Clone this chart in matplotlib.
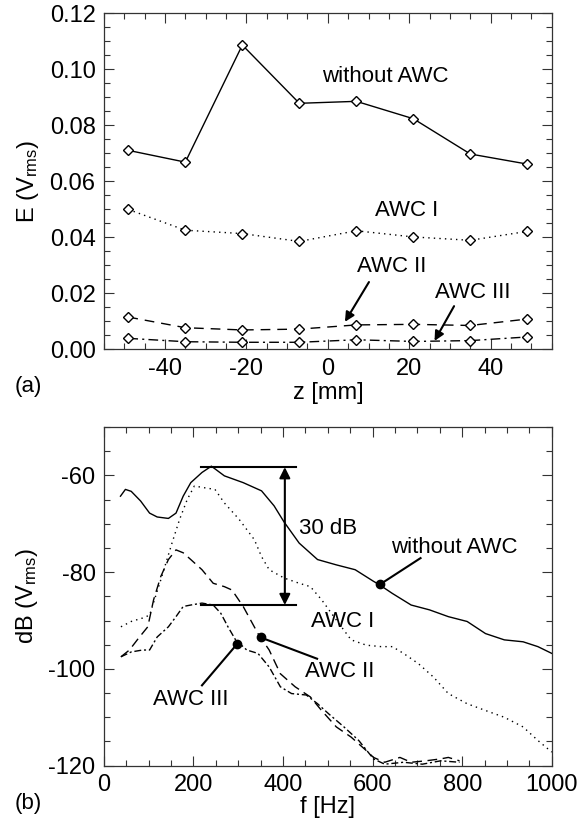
import numpy as np
import matplotlib
matplotlib.use("Agg")
import matplotlib.pyplot as plt
from matplotlib.ticker import MultipleLocator, FormatStrFormatter

plt.rcParams['font.family'] = ['Liberation Sans', 'DejaVu Sans']
plt.rcParams['mathtext.fontset'] = 'custom'
plt.rcParams['mathtext.rm'] = 'Liberation Sans'
plt.rcParams['mathtext.it'] = 'Liberation Sans'
plt.rcParams['axes.unicode_minus'] = False

# ---------------- data: panel (a) ----------------
z = [-49, -35, -21, -7, 7, 21, 35, 49]
e_without = [0.0710, 0.0668, 0.1086, 0.0878, 0.0885, 0.0823, 0.0697, 0.0661]
e_awc1 = [0.0499, 0.0425, 0.0413, 0.0385, 0.0423, 0.0401, 0.0389, 0.0421]
e_awc2 = [0.0115, 0.0077, 0.0069, 0.0072, 0.0087, 0.0089, 0.0085, 0.0108]
e_awc3 = [0.0039, 0.0027, 0.0025, 0.0025, 0.0034, 0.0028, 0.0031, 0.0044]

# ---------------- data: panel (b) ----------------
f_without = [37, 48, 61, 82, 102, 119, 144, 161, 177, 194, 219, 240, 269, 311, 352,
             380, 402, 436, 477, 519, 561, 602, 615, 644, 686, 727, 769, 811, 852,
             894, 936, 969, 1000]
db_without = [-64.3, -62.9, -63.3, -65.3, -67.8, -68.6, -68.9, -67.8, -64.3, -61.5,
              -59.4, -58.1, -60.1, -61.5, -63.2, -66.3, -69.6, -74.0, -77.4, -78.5,
              -79.5, -81.9, -82.6, -84.4, -86.8, -87.8, -89.2, -90.2, -92.7, -94.0,
              -94.4, -95.4, -96.8]

f_awc1 = [38, 61, 86, 102, 127, 152, 169, 186, 202, 227, 248, 269, 302, 336, 352,
          369, 402, 436, 461, 486, 519, 552, 586, 619, 644, 669, 702, 736, 769, 811,
          852, 894, 936, 969, 1000]
db_awc1 = [-91.3, -90.2, -89.5, -88.9, -81.6, -74.0, -69.1, -65.0, -62.2, -62.6,
           -62.9, -65.7, -69.1, -73.3, -76.8, -79.5, -81.2, -82.3, -83.0, -85.7,
           -89.9, -94.0, -95.1, -95.4, -95.4, -96.8, -98.9, -101.7, -105.1, -107.2,
           -108.6, -110.0, -112.0, -114.8, -117.2]

f_awc2 = [38, 57, 77, 98, 111, 127, 144, 161, 177, 194, 219, 244, 269, 286, 311, 344,
          369, 394, 427, 461, 486, 519, 552, 586, 602, 627, 661, 686, 719, 752, 769, 794]
db_awc2 = [-97.5, -96.1, -93.7, -91.3, -85.7, -80.9, -77.4, -75.4, -76.0, -77.4,
           -79.5, -82.3, -83.0, -83.7, -87.1, -92.7, -96.1, -101.0, -103.7, -105.8,
           -108.6, -112.0, -114.1, -116.9, -118.3, -119.3, -118.3, -119.3, -119.0,
           -118.6, -118.3, -119.0]

f_awc3 = [38, 61, 86, 102, 119, 144, 161, 177, 194, 219, 244, 261, 277, 294, 319,
          344, 369, 394, 419, 452, 477, 502, 536, 569, 602, 627, 669, 711, 752, 794]
db_awc3 = [-97.5, -96.5, -96.1, -96.1, -93.4, -91.3, -89.2, -87.1, -86.8, -86.4,
           -86.8, -88.5, -91.3, -94.0, -96.1, -96.8, -99.6, -103.7, -105.1, -105.4,
           -107.2, -109.3, -112.0, -114.8, -118.6, -119.7, -119.3, -119.7, -119.0, -119.3]

fig = plt.figure(figsize=(5.87, 8.18), dpi=100)
ax1 = fig.add_axes([0.177, 0.573, 0.763, 0.411])
ax2 = fig.add_axes([0.177, 0.064, 0.763, 0.414])

tick_fs = 17
txt_fs = 16


def style_axes(ax):
    ax.tick_params(which='both', direction='in', top=True, right=True,
                   labelsize=tick_fs, width=0.8, color='#333333')
    ax.tick_params(which='major', length=7, pad=6)
    ax.tick_params(which='minor', length=4)
    for s in ax.spines.values():
        s.set_linewidth(0.9)
        s.set_color('#333333')


# ---------------- panel (a) ----------------
mk = dict(marker='D', ms=5.5, mfc='white', mec='k', mew=1.0, color='k', lw=1.0)
ax1.plot(z, e_without, ls='-', **mk)
ax1.plot(z, e_awc1, ls=(0, (1, 3)), **mk)
ax1.plot(z, e_awc2, ls=(0, (7, 5)), **mk)
ax1.plot(z, e_awc3, ls=(0, (7, 3, 1.5, 3)), **mk)

ax1.set_xlim(-55, 55)
ax1.set_ylim(0, 0.12)
ax1.xaxis.set_major_locator(MultipleLocator(20))
ax1.xaxis.set_minor_locator(MultipleLocator(5))
ax1.yaxis.set_major_locator(MultipleLocator(0.02))
ax1.yaxis.set_minor_locator(MultipleLocator(0.005))
ax1.yaxis.set_major_formatter(FormatStrFormatter('%.2f'))
style_axes(ax1)
ax1.set_xlabel('z [mm]', fontsize=tick_fs, labelpad=2)
ax1.set_ylabel('E (V$_{\\mathrm{rms}}$)', fontsize=tick_fs, labelpad=6)

ax1.text(14.0, 0.0973, 'without AWC', fontsize=txt_fs, ha='center', va='center')
ax1.text(19.3, 0.0494, 'AWC I', fontsize=txt_fs, ha='center', va='center')
ax1.text(15.6, 0.0294, 'AWC II', fontsize=txt_fs, ha='center', va='center')
ax1.text(35.6, 0.0201, 'AWC III', fontsize=txt_fs, ha='center', va='center')
arr = dict(arrowstyle='-|>', lw=1.5, color='k', mutation_scale=14, shrinkA=0, shrinkB=0)
ax1.annotate('', xy=(4.2, 0.0098), xytext=(10.1, 0.0240), arrowprops=arr)
ax1.annotate('', xy=(26.2, 0.0030), xytext=(31.0, 0.0154), arrowprops=arr)

# ---------------- panel (b) ----------------
ax2.plot(f_without, db_without, color='k', lw=1.0, ls='-')
ax2.plot(f_awc1, db_awc1, color='k', lw=1.0, ls=(0, (1, 3)))
ax2.plot(f_awc2, db_awc2, color='k', lw=1.0, ls=(0, (7, 4)))
ax2.plot(f_awc3, db_awc3, color='k', lw=1.0, ls=(0, (5, 2, 1.5, 2)))

ax2.set_xlim(0, 1000)
ax2.set_ylim(-120, -50)
ax2.xaxis.set_major_locator(MultipleLocator(200))
ax2.xaxis.set_minor_locator(MultipleLocator(50))
ax2.yaxis.set_major_locator(MultipleLocator(20))
ax2.yaxis.set_minor_locator(MultipleLocator(5))
ax2.set_yticks([-120, -100, -80, -60])
style_axes(ax2)
ax2.set_xlabel('f [Hz]', fontsize=tick_fs, labelpad=0)
ax2.set_ylabel('dB (V$_{\\mathrm{rms}}$)', fontsize=tick_fs, labelpad=6)

# 30 dB bracket
ax2.plot([217, 429], [-58.3, -58.3], color='k', lw=1.5)
ax2.plot([217, 429], [-86.8, -86.8], color='k', lw=1.5)
ax2.annotate('', xy=(404, -58.3), xytext=(404, -86.8),
             arrowprops=dict(arrowstyle='<|-|>', lw=1.5, color='k',
                             mutation_scale=16, shrinkA=0, shrinkB=0))
ax2.text(500, -70.9, '30 dB', fontsize=txt_fs, ha='center', va='center')

# labelled points
ax2.plot([707, 617], [-77.1, -82.5], color='k', lw=1.5)
ax2.plot(617, -82.5, 'o', color='k', ms=6)
ax2.text(782, -75.0, 'without AWC', fontsize=txt_fs, ha='center', va='center')

ax2.text(534, -90.2, 'AWC I', fontsize=txt_fs, ha='center', va='center')

ax2.plot([476, 350], [-97.9, -93.5], color='k', lw=1.5)
ax2.plot(350, -93.5, 'o', color='k', ms=6)
ax2.text(527, -100.6, 'AWC II', fontsize=txt_fs, ha='center', va='center')

ax2.plot([219, 297], [-103.4, -94.9], color='k', lw=1.5)
ax2.plot(297, -94.9, 'o', color='k', ms=6)
ax2.text(194, -106.4, 'AWC III', fontsize=txt_fs, ha='center', va='center')

fig.text(0.048, 1 - 387 / 818, '(a)', fontsize=txt_fs, ha='center', va='center')
fig.text(0.048, 1 - 803 / 818, '(b)', fontsize=txt_fs, ha='center', va='center')

fig.savefig('out.png', dpi=100)
